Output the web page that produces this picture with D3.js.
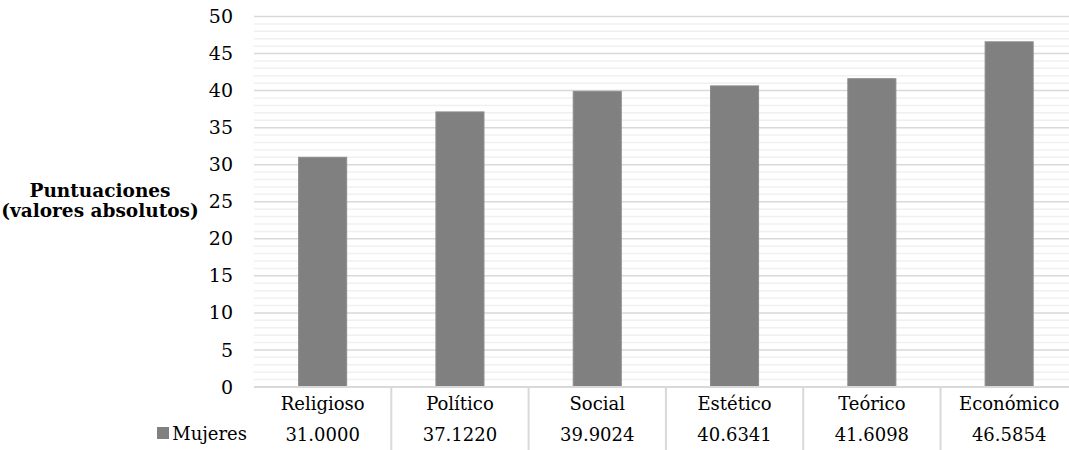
<!DOCTYPE html>
<html><head><meta charset="utf-8">
<script src="https://cdn.jsdelivr.net/npm/d3@7"></script>
<style>body{margin:0;background:#fff}svg{display:block}text{font-family:"DejaVu Serif",serif;fill:#000}</style>
</head><body><svg width="1069" height="450"></svg>
<script>
const categories = ["Religioso","Político","Social","Estético","Teórico","Económico"];
const mujeres = [31.0000, 37.1220, 39.9024, 40.6341, 41.6098, 46.5854];
const valueLabels = ["31.0000","37.1220","39.9024","40.6341","41.6098","46.5854"];
const yTicks = [0,5,10,15,20,25,30,35,40,45,50];
const seriesName = "Mujeres";
const yTitle = ["Puntuaciones","(valores absolutos)"];

(function(){
const svg = d3.select("svg");
const left = 254, step = 137.3, plotTop = 16.5, plotBottom = 387;
const x = d3.scaleBand().domain(categories).range([left, left + step*categories.length]).paddingInner(0.65).paddingOuter(0.325);
const xCol = d3.scaleBand().domain(categories).range([left, left + step*categories.length]);
const y = d3.scaleLinear().domain([0,50]).range([plotBottom, plotTop]);

// minor grid
svg.append("g").selectAll("line").data(d3.range(1,50).filter(v=>v%5!==0)).join("line")
  .attr("x1", left).attr("x2", 1069).attr("y1", d=>y(d)).attr("y2", d=>y(d))
  .attr("stroke", "#f0f0f0").attr("stroke-width", 1.5);
// major grid
svg.append("g").selectAll("line").data(yTicks.filter(v=>v>0)).join("line")
  .attr("x1", left).attr("x2", 1069).attr("y1", d=>y(d)).attr("y2", d=>y(d))
  .attr("stroke", "#d9d9d9").attr("stroke-width", 1.5);

// bars
svg.append("g").selectAll("rect").data(mujeres).join("rect")
  .attr("x", (d,i)=>x(categories[i])).attr("width", x.bandwidth())
  .attr("y", d=>y(d)).attr("height", d=>y(0)-y(d))
  .attr("fill", "#808080").attr("stroke", "#8c8c8c").attr("stroke-width", 1);

// y axis labels
const yAxis = d3.axisLeft(y).tickValues(yTicks).tickSize(0).tickPadding(0).tickFormat(d3.format("d"));
const ga = svg.append("g").attr("transform", `translate(${left-21},0)`).call(yAxis);
ga.select(".domain").remove();
ga.selectAll("text").attr("font-size", 19).attr("font-family", "DejaVu Serif").attr("fill", "#000");

// axis baseline
svg.append("line").attr("x1", left).attr("x2", 1069).attr("y1", y(0)).attr("y2", y(0)).attr("stroke", "#d9d9d9").attr("stroke-width", 2);

// table separators
svg.append("g").selectAll("line").data(categories.slice(1)).join("line")
  .attr("x1", d=>xCol(d)).attr("x2", d=>xCol(d)).attr("y1", y(0)).attr("y2", 450)
  .attr("stroke", "#d9d9d9").attr("stroke-width", 2);

// category labels
svg.append("g").selectAll("text").data(categories).join("text")
  .attr("x", d=>xCol(d)+xCol.bandwidth()/2).attr("y", 410).attr("text-anchor","middle")
  .attr("font-size", 18).text(d=>d);
// values
svg.append("g").selectAll("text").data(valueLabels).join("text")
  .attr("x", (d,i)=>xCol(categories[i])+xCol.bandwidth()/2).attr("y", 441).attr("text-anchor","middle")
  .attr("font-size", 18).text(d=>d);

// legend
svg.append("rect").attr("x", 157).attr("y", 427).attr("width", 12).attr("height", 12).attr("fill", "#808080");
svg.append("text").attr("x", 247).attr("y", 440).attr("text-anchor","end").attr("font-size", 18).text(seriesName);

// y title
svg.append("text").attr("x", 100).attr("y", 197).attr("text-anchor","middle").attr("font-size", 18.5).attr("font-weight","bold").text(yTitle[0]);
svg.append("text").attr("x", 100).attr("y", 217).attr("text-anchor","middle").attr("font-size", 18.5).attr("font-weight","bold").text(yTitle[1]);
})();
</script></body></html>
